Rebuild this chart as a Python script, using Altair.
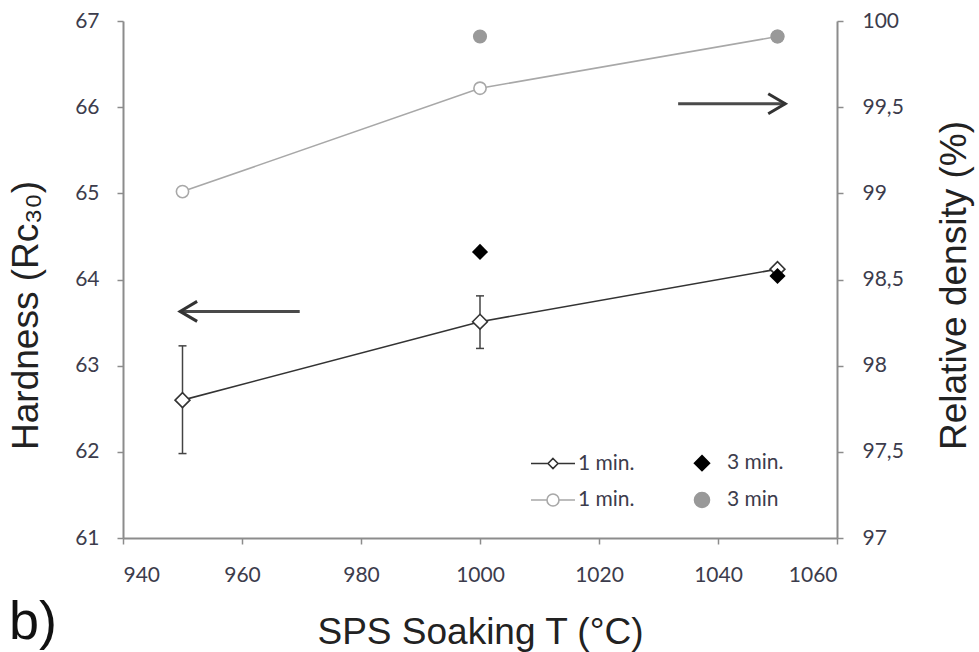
import altair as alt
import pandas as pd

# ---------------- data ----------------
temps = [950, 1000, 1050]
hard_1min = [62.60, 63.51, 64.12]
err_temps = [950, 1000]
err_lo = [61.98, 63.20]
err_hi = [63.23, 63.81]
temps_3min = [1000, 1050]
hard_3min = [64.32, 64.04]
dens_1min = [99.01, 99.61, 99.91]
dens_3min = [99.91, 99.91]

x_ticks = [940, 960, 980, 1000, 1020, 1040, 1060]
hard_ticks = [61, 62, 63, 64, 65, 66, 67]
dens_ticks = [97, 97.5, 98, 98.5, 99, 99.5, 100]

# legend order (filled column by column)
legend_keys = ["H1", "D1", "H3", "D3"]
legend_labels = ["1 min.", "1 min.", "3 min.", "3 min"]

arrow_h_start = [969.7]
arrow_h_tip = [949.6]
arrow_h_y = [63.63]
arrow_d_start = [1033.3]
arrow_d_tip = [1051.3]
arrow_d_y = [99.52]

# ---------------- helpers ----------------
def circle_path(r, cx=0.0):
    k = 0.5523 * r
    return (f"M{cx + r},0 C{cx + r},{k} {cx + k},{r} {cx},{r} "
            f"C{cx - k},{r} {cx - r},{k} {cx - r},0 "
            f"C{cx - r},{-k} {cx - k},{-r} {cx},{-r} "
            f"C{cx + k},{-r} {cx + r},{-k} {cx + r},0 Z")

def diamond_path(r):
    return f"M0,{-r} L{r},0 L0,{r} L{-r},0 Z"

leg_shapes = {
    "H1": "M-2.2,0 L-0.5,0 M0.5,0 L2.2,0 " + diamond_path(0.5),
    "H3": diamond_path(0.75),
    "D1": "M-2.2,0 L-0.6,0 M0.6,0 L2.2,0 " + circle_path(0.6),
    "D3": circle_path(0.75),
}

label_expr = " : ".join(
    f"datum.label === '{k}' ? '{v}'" for k, v in zip(legend_keys, legend_labels)
) + " : datum.label"

dark = "#333333"
gray_line = "#a8a8a8"
gray_fill = "#999999"
leg_fills = {"H1": "white", "H3": "#000000", "D1": "white", "D3": gray_fill}
leg_strokes = {"H1": dark, "H3": "#000000", "D1": gray_line, "D3": gray_fill}

x_scale = alt.Scale(domain=[940, 1060], nice=False, zero=False)
x_axis = alt.Axis(values=x_ticks, format="d", title="SPS Soaking T (°C)",
                  labelPadding=20, titleY=105, titleBaseline="alphabetic")

def xenc(field):
    return alt.X(f"{field}:Q", scale=x_scale, axis=x_axis)

yh_scale = alt.Scale(domain=[61, 67], nice=False, zero=False)
yh_axis = alt.Axis(values=hard_ticks, format="d", title="Hardness (Rc₃₀)",
                   labelPadding=18, titleAngle=270, titleX=-86, titleY=294,
                   titleBaseline="alphabetic", titleAlign="center", orient="left")

def yh(field):
    return alt.Y(f"{field}:Q", scale=yh_scale, axis=yh_axis)

yd_scale = alt.Scale(domain=[97, 100], nice=False, zero=False)
yd_axis = alt.Axis(values=dens_ticks, format=".1~f", title="Relative density (%)",
                   orient="right", labelExpr="replace(datum.label, '.', ',')",
                   labelPadding=19, titleAngle=270, titleX=128, titleY=264,
                   titleBaseline="alphabetic", titleAlign="center")

def yd(field):
    return alt.Y(f"{field}:Q", scale=yd_scale, axis=yd_axis)

# ---------------- data frames ----------------
hard_df = pd.DataFrame({"T": temps, "H": hard_1min})
err_df = pd.DataFrame({"T": err_temps, "lo": err_lo, "hi": err_hi})
hard3_df = pd.DataFrame({"T": temps_3min, "H": hard_3min})
dens_df = pd.DataFrame({"T": temps, "D": dens_1min})
dens3_df = pd.DataFrame({"T": temps_3min, "D": dens_3min})
arrow_h_df = pd.DataFrame({"xs": arrow_h_start, "xt": arrow_h_tip, "y": arrow_h_y})
arrow_d_df = pd.DataFrame({"xs": arrow_d_start, "xt": arrow_d_tip, "y": arrow_d_y})
legend_df = pd.DataFrame({"series": legend_keys, "T": [1000] * 4, "H": [64] * 4})

# ---------------- density group ----------------
dens_line = alt.Chart(dens_df).mark_line(color=gray_line, strokeWidth=1.6).encode(
    x=xenc("T"), y=yd("D"))
dens_open = alt.Chart(dens_df).mark_point(
    shape="circle", size=150, filled=True, fill="white", stroke=gray_line,
    strokeWidth=1.6, opacity=1).encode(x=xenc("T"), y=yd("D"))
dens_fill = alt.Chart(dens3_df).mark_point(
    shape="circle", size=200, filled=True, color=gray_fill, opacity=1).encode(
    x=xenc("T"), y=yd("D"))
arrow_d_rule = alt.Chart(arrow_d_df).mark_rule(color="#4a4a4a", strokeWidth=3).encode(
    x=xenc("xs"), x2="xt:Q", y=yd("y"))
arrow_d_head = alt.Chart(arrow_d_df).mark_point(
    shape="M-1.7,-1 L0,0 L-1.7,1", size=400, filled=False, color="#333333",
    strokeWidth=3, opacity=1).encode(x=xenc("xt"), y=yd("y"))

dens_group = alt.layer(dens_line, dens_open, dens_fill, arrow_d_rule, arrow_d_head)

# ---------------- hardness group ----------------
err_rule = alt.Chart(err_df).mark_rule(color="#444444", strokeWidth=1.5).encode(
    x=xenc("T"), y=yh("lo"), y2="hi:Q")
cap_lo = alt.Chart(err_df).mark_point(
    shape="M-1,0 L1,0", size=64, filled=False, color="#444444", strokeWidth=1.5,
    opacity=1).encode(x=xenc("T"), y=yh("lo"))
cap_hi = alt.Chart(err_df).mark_point(
    shape="M-1,0 L1,0", size=64, filled=False, color="#444444", strokeWidth=1.5,
    opacity=1).encode(x=xenc("T"), y=yh("hi"))
hard_line = alt.Chart(hard_df).mark_line(color=dark, strokeWidth=1.6).encode(
    x=xenc("T"), y=yh("H"))
hard_open = alt.Chart(hard_df).mark_point(
    shape="diamond", size=220, filled=True, fill="white", stroke=dark,
    strokeWidth=1.6, opacity=1).encode(x=xenc("T"), y=yh("H"))
hard_fill = alt.Chart(hard3_df).mark_point(
    shape="diamond", size=260, filled=True, color="#000000", opacity=1).encode(
    x=xenc("T"), y=yh("H"))
arrow_h_rule = alt.Chart(arrow_h_df).mark_rule(color="#4a4a4a", strokeWidth=3).encode(
    x=xenc("xs"), x2="xt:Q", y=yh("y"))
arrow_h_head = alt.Chart(arrow_h_df).mark_point(
    shape="M1.7,-1 L0,0 L1.7,1", size=400, filled=False, color="#333333",
    strokeWidth=3, opacity=1).encode(x=xenc("xt"), y=yh("y"))

leg = alt.Legend(orient="none", legendX=419, legendY=431, columns=2, title=None,
                 symbolSize=400, symbolStrokeWidth=1.6, symbolFillColor="white",
                 labelFont="Lato", labelFontSize=21, labelColor="#3c3c4c",
                 labelOffset=14, columnPadding=56, rowPadding=15, padding=0,
                 labelExpr=label_expr)
legend_layer = alt.Chart(legend_df).mark_point(strokeWidth=1.6, filled=True, opacity=1).encode(
    x=xenc("T"), y=yh("H"),
    shape=alt.Shape("series:N", legend=leg, scale=alt.Scale(
        domain=legend_keys, range=[leg_shapes[k] for k in legend_keys])),
    fill=alt.Fill("series:N", legend=leg, scale=alt.Scale(
        domain=legend_keys, range=[leg_fills[k] for k in legend_keys])),
    stroke=alt.Stroke("series:N", legend=leg, scale=alt.Scale(
        domain=legend_keys, range=[leg_strokes[k] for k in legend_keys])),
).transform_filter("false")

hard_group = alt.layer(err_rule, cap_lo, cap_hi, hard_line, hard_open, hard_fill,
                       arrow_h_rule, arrow_h_head, legend_layer)

# ---------------- panel label ----------------
b_label = alt.Chart(pd.DataFrame({"t": ["b)"]})).mark_text(
    align="left", baseline="alphabetic", fontSize=54, font="Liberation Sans",
    color="#111111").encode(text="t:N", x=alt.value(-114), y=alt.value(618))

chart = alt.layer(dens_group, hard_group, b_label).resolve_scale(
    y="independent"
).properties(
    width=714, height=517, autosize="none",
    padding={"left": 123, "top": 21, "right": 142, "bottom": 114},
).configure_view(stroke=None).configure_axis(
    grid=False, domainColor="#8c8c8c", domainWidth=2, tickColor="#8c8c8c",
    tickWidth=1.5, tickSize=6, labelFont="Lato", labelFontSize=21,
    labelColor="#3c3c4c", titleFont="Liberation Sans", titleFontSize=37,
    titleFontWeight="normal", titleColor="#222222",
)

chart.save("out.html", embed_options={"renderer": "svg", "actions": False})
